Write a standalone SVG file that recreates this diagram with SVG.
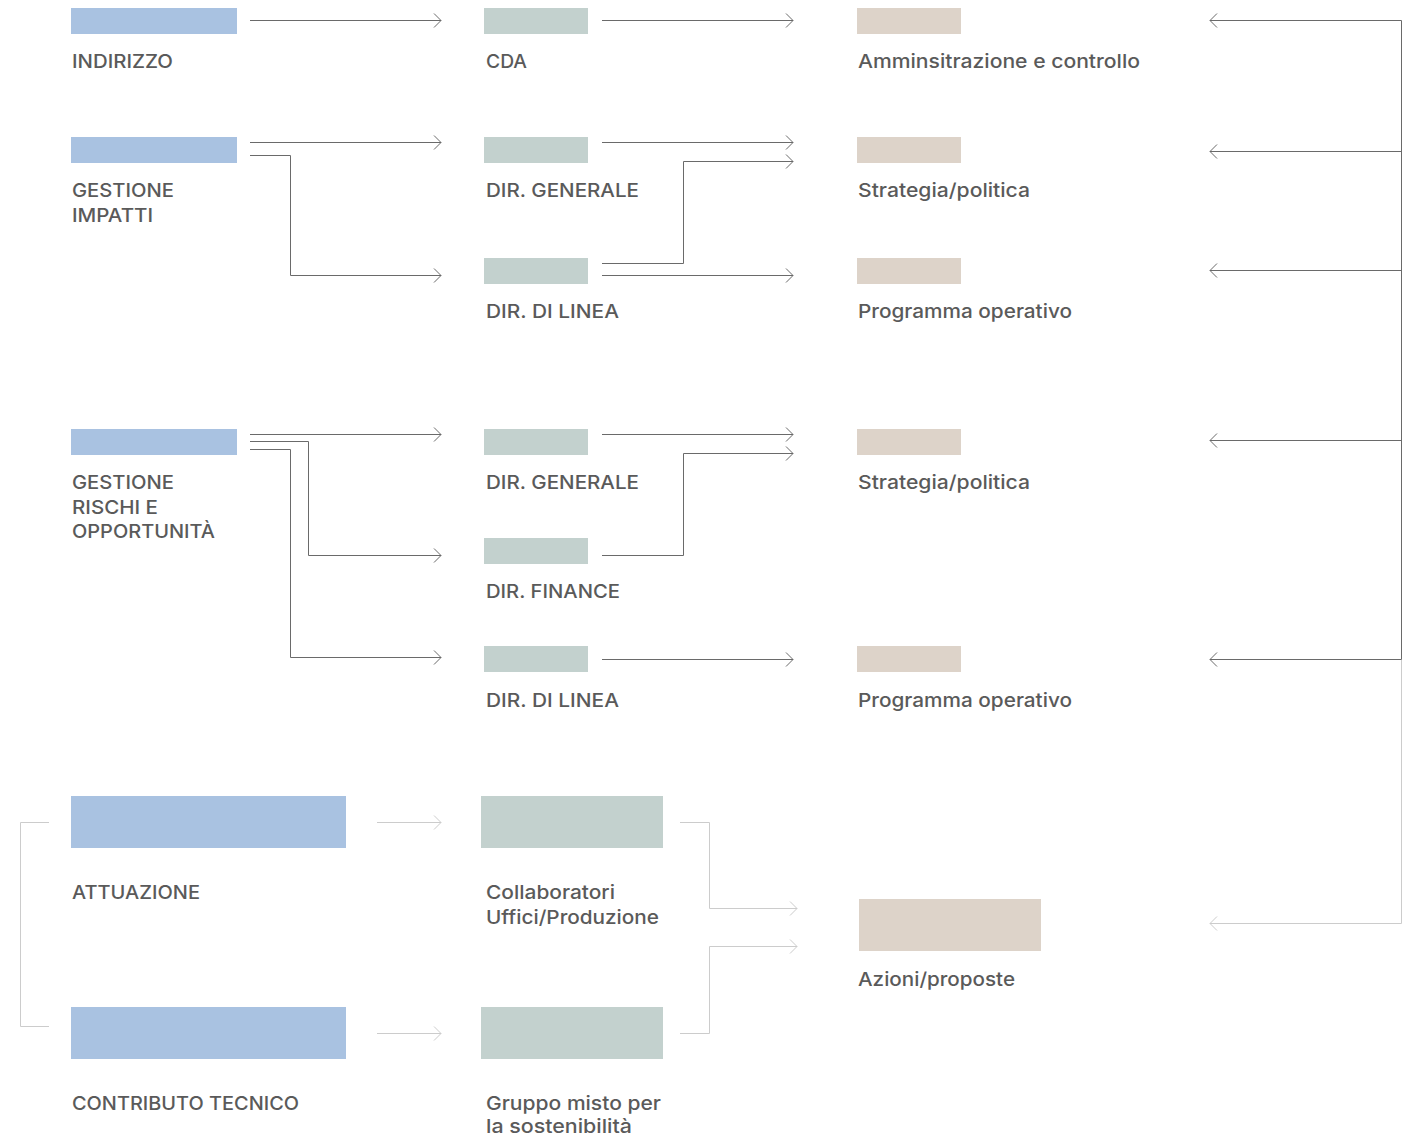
<svg xmlns="http://www.w3.org/2000/svg" width="1409" height="1137" viewBox="0 0 1409 1137">
<style>
.b{fill:#a9c2e1}
.g{fill:#c3d1ce}
.e{fill:#ddd3c9}
text{font-family:Inter,"Open Sans","Liberation Sans",sans-serif;font-size:19px;font-weight:500;fill:#5a5a5a}
.c{fill:none;stroke:#6a6a6a;stroke-width:1}
.l{fill:none;stroke:#cccccc;stroke-width:1}
.a{marker-end:url(#ad)}
.al{marker-end:url(#al)}
</style>
<defs>
<marker id="ad" markerUnits="userSpaceOnUse" markerWidth="10" markerHeight="16" refX="8" refY="7.5" orient="auto"><path d="M1,0.5 L8,7.5 L1,14.5" fill="none" stroke="#6a6a6a" stroke-width="1"/></marker>
<marker id="al" markerUnits="userSpaceOnUse" markerWidth="10" markerHeight="16" refX="8" refY="7.5" orient="auto"><path d="M1,0.5 L8,7.5 L1,14.5" fill="none" stroke="#cccccc" stroke-width="1"/></marker>
</defs>
<rect width="1409" height="1137" fill="#ffffff"/>
<g id="connectors">
<path class="c a" d="M250 20.5 H441"/>
<path class="c a" d="M602 20.5 H793"/>
<path class="c a" d="M250 142.5 H441"/>
<path class="c a" d="M250 155.5 H290.5 V275.5 H441"/>
<path class="c a" d="M602 142.5 H793"/>
<path class="c a" d="M602 263.5 H683.5 V161.5 H793"/>
<path class="c a" d="M602 275.5 H793"/>
<path class="c a" d="M250 434.5 H441"/>
<path class="c a" d="M250 441.5 H308.5 V555.5 H441"/>
<path class="c a" d="M250 449.5 H290.5 V657.5 H441"/>
<path class="c a" d="M602 434.5 H793"/>
<path class="c a" d="M602 555.5 H683.5 V453.5 H793"/>
<path class="c a" d="M602 659.5 H793"/>
<path class="c" d="M1401.5 20.5 V659.5"/>
<path class="c a" d="M1401.5 20.5 H1210"/>
<path class="c a" d="M1401.5 151.5 H1210"/>
<path class="c a" d="M1401.5 270.5 H1210"/>
<path class="c a" d="M1401.5 440.5 H1210"/>
<path class="c a" d="M1401.5 659.5 H1210"/>
<path class="l al" d="M1401.5 660 V923.5 H1210"/>
<path class="l al" d="M377 822.5 H441"/>
<path class="l al" d="M377 1033.5 H441"/>
<path class="l" d="M49 822.5 H20.5 V1026.5 H49"/>
<path class="l al" d="M680 822.5 H709.5 V908.5 H797"/>
<path class="l al" d="M680 1033.5 H709.5 V946.5 H797"/>
</g>
<g id="n-indirizzo"><rect class="b" x="71" y="8" width="166" height="26"/><text x="72" y="68" textLength="101" lengthAdjust="spacingAndGlyphs">INDIRIZZO</text></g>
<g id="n-cda"><rect class="g" x="484" y="8" width="104" height="26"/><text x="486" y="68" textLength="41" lengthAdjust="spacingAndGlyphs">CDA</text></g>
<g id="n-amministrazione"><rect class="e" x="857" y="8" width="104" height="26"/><text x="858" y="68" textLength="282" lengthAdjust="spacingAndGlyphs">Amminsitrazione e controllo</text></g>
<g id="n-gestione-impatti"><rect class="b" x="71" y="137" width="166" height="26"/><text x="72" y="197" textLength="102" lengthAdjust="spacingAndGlyphs">GESTIONE</text><text x="72" y="222" textLength="81" lengthAdjust="spacingAndGlyphs">IMPATTI</text></g>
<g id="n-dir-generale-1"><rect class="g" x="484" y="137" width="104" height="26"/><text x="486" y="197" textLength="153" lengthAdjust="spacingAndGlyphs">DIR. GENERALE</text></g>
<g id="n-strategia-1"><rect class="e" x="857" y="137" width="104" height="26"/><text x="858" y="197" textLength="172" lengthAdjust="spacingAndGlyphs">Strategia/politica</text></g>
<g id="n-dir-linea-1"><rect class="g" x="484" y="258" width="104" height="26"/><text x="486" y="318" textLength="133" lengthAdjust="spacingAndGlyphs">DIR. DI LINEA</text></g>
<g id="n-programma-1"><rect class="e" x="857" y="258" width="104" height="26"/><text x="858" y="318" textLength="214" lengthAdjust="spacingAndGlyphs">Programma operativo</text></g>
<g id="n-gestione-rischi"><rect class="b" x="71" y="429" width="166" height="26"/><text x="72" y="489" textLength="102" lengthAdjust="spacingAndGlyphs">GESTIONE</text><text x="72" y="514" textLength="86" lengthAdjust="spacingAndGlyphs">RISCHI E</text><text x="72" y="538" textLength="143" lengthAdjust="spacingAndGlyphs">OPPORTUNITÀ</text></g>
<g id="n-dir-generale-2"><rect class="g" x="484" y="429" width="104" height="26"/><text x="486" y="489" textLength="153" lengthAdjust="spacingAndGlyphs">DIR. GENERALE</text></g>
<g id="n-strategia-2"><rect class="e" x="857" y="429" width="104" height="26"/><text x="858" y="489" textLength="172" lengthAdjust="spacingAndGlyphs">Strategia/politica</text></g>
<g id="n-dir-finance"><rect class="g" x="484" y="538" width="104" height="26"/><text x="486" y="598" textLength="134" lengthAdjust="spacingAndGlyphs">DIR. FINANCE</text></g>
<g id="n-dir-linea-2"><rect class="g" x="484" y="646" width="104" height="26"/><text x="486" y="707" textLength="133" lengthAdjust="spacingAndGlyphs">DIR. DI LINEA</text></g>
<g id="n-programma-2"><rect class="e" x="857" y="646" width="104" height="26"/><text x="858" y="707" textLength="214" lengthAdjust="spacingAndGlyphs">Programma operativo</text></g>
<g id="n-attuazione"><rect class="b" x="71" y="796" width="275" height="52"/><text x="72" y="899" textLength="128" lengthAdjust="spacingAndGlyphs">ATTUAZIONE</text></g>
<g id="n-collaboratori"><rect class="g" x="481" y="796" width="182" height="52"/><text x="486" y="899" textLength="129" lengthAdjust="spacingAndGlyphs">Collaboratori</text><text x="486" y="924" textLength="173" lengthAdjust="spacingAndGlyphs">Uffici/Produzione</text></g>
<g id="n-contributo"><rect class="b" x="71" y="1007" width="275" height="52"/><text x="72" y="1110" textLength="227" lengthAdjust="spacingAndGlyphs">CONTRIBUTO TECNICO</text></g>
<g id="n-gruppo"><rect class="g" x="481" y="1007" width="182" height="52"/><text x="486" y="1110" textLength="175" lengthAdjust="spacingAndGlyphs">Gruppo misto per</text><text x="486" y="1133" textLength="146" lengthAdjust="spacingAndGlyphs">la sostenibilità</text></g>
<g id="n-azioni"><rect class="e" x="859" y="899" width="182" height="52"/><text x="858" y="986" textLength="157" lengthAdjust="spacingAndGlyphs">Azioni/proposte</text></g>
</svg>
